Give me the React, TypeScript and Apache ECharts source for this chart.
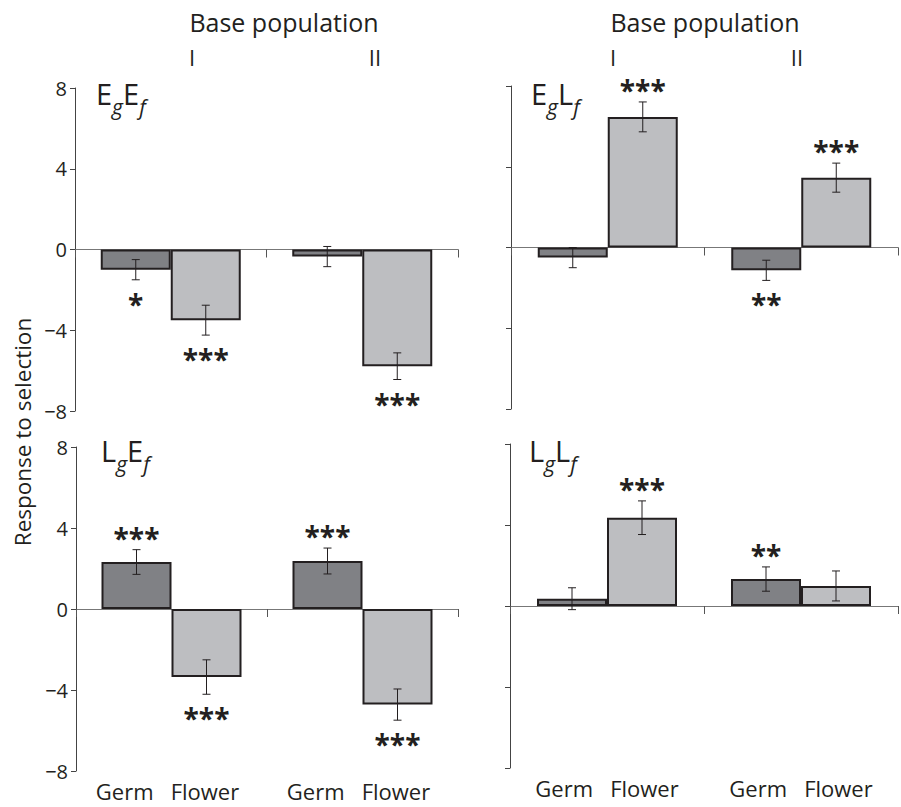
import React, { useEffect, useRef } from "react";
import * as echarts from "echarts";

// ---- data ----
const groups = ["I", "II"];

const egefGerm = [-1.0, -0.35];
const egefGermErr = [0.5, 0.5];
const egefFlower = [-3.5, -5.78];
const egefFlowerErr = [0.74, 0.66];
const egefGermStars = ["*", ""];
const egefFlowerStars = ["***", "***"];

const eglfGerm = [-0.5, -1.13];
const eglfGermErr = [0.5, 0.5];
const eglfFlower = [6.47, 3.46];
const eglfFlowerErr = [0.74, 0.72];
const eglfGermStars = ["", "**"];
const eglfFlowerStars = ["***", "***"];

const lgefGerm = [2.32, 2.37];
const lgefGermErr = [0.61, 0.64];
const lgefFlower = [-3.36, -4.72];
const lgefFlowerErr = [0.85, 0.77];
const lgefGermStars = ["***", "***"];
const lgefFlowerStars = ["***", "***"];

const lglfGerm = [0.36, 1.33];
const lglfGermErr = [0.54, 0.6];
const lglfFlower = [4.36, 0.99];
const lglfFlowerErr = [0.83, 0.74];
const lglfGermStars = ["", "**"];
const lglfFlowerStars = ["***", ""];

const yTicks = { min: -8, max: 8, interval: 4 };

// ---- style ----
const FONT = "'Open Sans', 'Noto Sans', sans-serif";
const GERM_COLOR = "#808185";
const FLOWER_COLOR = "#bdbec1";
const BORDER = "#231f20";
const BAR_W = 70;

const panelData = [
  { germ: egefGerm, germErr: egefGermErr, flower: egefFlower, flowerErr: egefFlowerErr, gs: egefGermStars, fs: egefFlowerStars },
  { germ: eglfGerm, germErr: eglfGermErr, flower: eglfFlower, flowerErr: eglfFlowerErr, gs: eglfGermStars, fs: eglfFlowerStars },
  { germ: lgefGerm, germErr: lgefGermErr, flower: lgefFlower, flowerErr: lgefFlowerErr, gs: lgefGermStars, fs: lgefFlowerStars },
  { germ: lglfGerm, germErr: lglfGermErr, flower: lglfFlower, flowerErr: lglfFlowerErr, gs: lglfGermStars, fs: lglfFlowerStars },
];

const grids = [
  { left: 75, top: 88, width: 383, height: 323 },
  { left: 511, top: 86, width: 387, height: 323 },
  { left: 76, top: 447, width: 382, height: 324 },
  { left: 510, top: 444, width: 388, height: 324 },
];

const panelLabels = [
  { a: "E", b: "E", x: 96, y: 92 },
  { a: "E", b: "L", x: 531, y: 92 },
  { a: "L", b: "E", x: 101, y: 449 },
  { a: "L", b: "L", x: 529, y: 449 },
];

function buildOption() {
  const xAxis: any[] = [];
  const yAxis: any[] = [];
  const series: any[] = [];

  grids.forEach((g, i) => {
    xAxis.push({
      type: "category",
      gridIndex: i,
      data: groups,
      axisLine: { onZero: true, lineStyle: { color: "#777", width: 1 } },
      axisTick: { show: true, length: 8, lineStyle: { color: "#555" } },
      axisLabel: { show: false },
      splitLine: { show: false },
    });
    yAxis.push({
      type: "value",
      gridIndex: i,
      min: yTicks.min,
      max: yTicks.max,
      interval: yTicks.interval,
      axisLine: { show: true, lineStyle: { color: "#444", width: 1 } },
      axisTick: { show: true, length: 5, lineStyle: { color: "#444" } },
      splitLine: { show: false },
      axisLabel: {
        show: i === 0 || i === 2,
        fontSize: 20,
        fontFamily: FONT,
        color: "#231f20",
        margin: 8,
        formatter: (v: number) => String(v).replace("-", "\u2212"),
      },
    });
  });

  // bottom label axes for the bottom panels
  [2, 3].forEach((gi) => {
    xAxis.push({
      type: "category",
      gridIndex: gi,
      data: groups,
      position: "bottom",
      axisLine: { show: false, onZero: false },
      axisTick: { show: false },
      axisLabel: {
        show: true,
        fontSize: 22,
        fontFamily: FONT,
        color: "#231f20",
        margin: 9,
        padding: gi === 2 ? [0, 8, 0, 0] : [0, 0, 0, 0],
        formatter: () => "Germ   Flower",
      },
    });
  });

  panelData.forEach((p, i) => {
    series.push({
      type: "bar",
      name: "Germ",
      xAxisIndex: i,
      yAxisIndex: i,
      data: p.germ,
      barWidth: BAR_W,
      barGap: "0%",
      itemStyle: { color: GERM_COLOR, borderColor: BORDER, borderWidth: 2 },
      z: 2,
    });
    series.push({
      type: "bar",
      name: "Flower",
      xAxisIndex: i,
      yAxisIndex: i,
      data: p.flower,
      barWidth: BAR_W,
      barGap: "0%",
      itemStyle: { color: FLOWER_COLOR, borderColor: BORDER, borderWidth: 2 },
      z: 2,
    });
    const items: any[] = [];
    const stars: string[] = [];
    groups.forEach((_, c) => {
      items.push([c, 0, p.germ[c], p.germErr[c]]);
      stars.push(p.gs[c]);
      items.push([c, 1, p.flower[c], p.flowerErr[c]]);
      stars.push(p.fs[c]);
    });
    series.push({
      type: "custom",
      xAxisIndex: i,
      yAxisIndex: i,
      data: items,
      encode: { x: 0, y: 2 },
      clip: false,
      z: 5,
      renderItem: (params: any, api: any) => {
        const cat = api.value(0);
        const which = api.value(1);
        const v = api.value(2);
        const e = api.value(3);
        const c = api.coord([cat, v]);
        const x = c[0] + (which === 0 ? -BAR_W / 2 : BAR_W / 2);
        const yt = api.coord([cat, v + e])[1];
        const yb = api.coord([cat, v - e])[1];
        const cap = 4;
        const ls = { stroke: "#231f20", lineWidth: 1 };
        const star = stars[params.dataIndex];
        const children: any[] = [
          { type: "line", shape: { x1: x, y1: yt, x2: x, y2: yb }, style: ls },
          { type: "line", shape: { x1: x - cap, y1: yt, x2: x + cap, y2: yt }, style: ls },
          { type: "line", shape: { x1: x - cap, y1: yb, x2: x + cap, y2: yb }, style: ls },
        ];
        if (star) {
          const above = v >= 0;
          children.push({
            type: "text",
            style: {
              text: star,
              x: x,
              y: above ? yt - 12 : yb + 24,
              align: "center",
              verticalAlign: "middle",
              fontSize: 28,
              fontWeight: "bold",
              fontFamily: FONT,
              fill: "#231f20",
            },
          });
        }
        return { type: "group", children };
      },
    });
  });

  const graphic: any[] = [];
  [
    { x: 284, i1: 192, i2: 375 },
    { x: 705, i1: 613, i2: 797 },
  ].forEach((h) => {
    graphic.push({
      type: "text",
      x: h.x,
      y: 22,
      style: { text: "Base population", fontSize: 25, fontFamily: FONT, fill: "#231f20", align: "center", verticalAlign: "middle" },
    });
    graphic.push({
      type: "text",
      x: h.i1,
      y: 57,
      style: { text: "I", fontSize: 22, fontFamily: FONT, fill: "#231f20", align: "center", verticalAlign: "middle" },
    });
    graphic.push({
      type: "text",
      x: h.i2,
      y: 57,
      style: { text: "II", fontSize: 22, fontFamily: FONT, fill: "#231f20", align: "center", verticalAlign: "middle" },
    });
  });
  panelLabels.forEach((l) => {
    graphic.push({
      type: "text",
      x: l.x,
      y: l.y,
      style: {
        text: `{m|${l.a}}{s|g}{m|${l.b}}{s|f}`,
        fontFamily: FONT,
        align: "left",
        verticalAlign: "middle",
        rich: {
          m: { fontSize: 29, fontFamily: FONT, fill: "#231f20", verticalAlign: "bottom", lineHeight: 32 },
          s: { fontSize: 21, fontFamily: FONT, fontStyle: "italic", fill: "#231f20", verticalAlign: "bottom", padding: [0, 0, -9, 0], lineHeight: 32 },
        },
      },
    });
  });
  graphic.push({
    type: "text",
    x: 22,
    y: 432,
    rotation: Math.PI / 2,
    style: { text: "Response to selection", fontSize: 22.5, fontFamily: FONT, fill: "#231f20", align: "center", verticalAlign: "middle" },
  });

  return {
    animation: false,
    backgroundColor: "#fff",
    grid: grids.map((g) => ({ ...g, containLabel: false })),
    xAxis,
    yAxis,
    series,
    graphic,
  };
}

export default function App() {
  const ref = useRef<HTMLDivElement>(null);
  useEffect(() => {
    if (!ref.current) return;
    const chart = echarts.init(ref.current, undefined, { renderer: "svg" });
    chart.setOption(buildOption() as any);
    return () => chart.dispose();
  }, []);
  return <div ref={ref} style={{ position: "fixed", left: 0, top: 0, width: 901, height: 807 }} />;
}
